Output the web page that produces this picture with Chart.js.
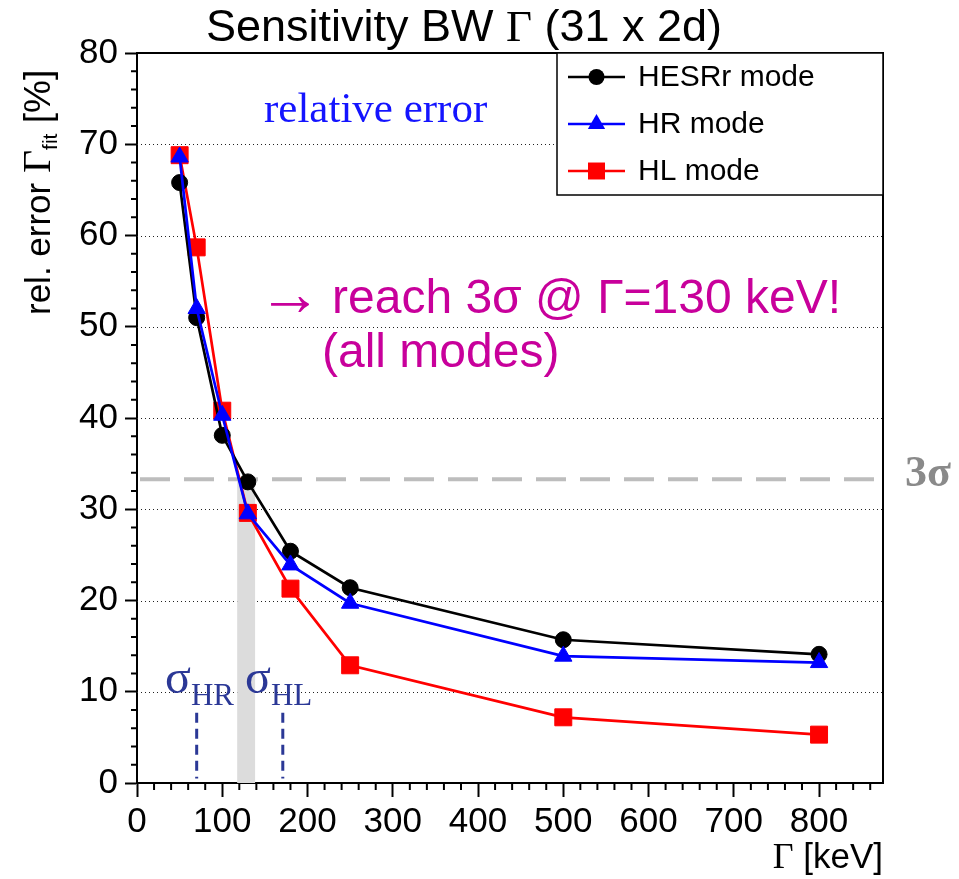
<!DOCTYPE html>
<html><head><meta charset="utf-8">
<script src="https://cdn.jsdelivr.net/npm/chart.js@4.4.1/dist/chart.umd.min.js"></script>
<style>html,body{margin:0;padding:0;background:#fff;}canvas{display:block;}</style>
</head><body>
<canvas id="c" width="959" height="879"></canvas>
<script>
// ---- data ----
const widths = [50, 70, 100, 130, 180, 250, 500, 800];          // Gamma [keV]
const hesrrErr = [65.8, 51.0, 38.1, 33.0, 25.4, 21.4, 15.7, 14.1]; // HESRr mode
const hrErr    = [68.6, 52.0, 40.3, 29.5, 23.9, 19.7, 13.9, 13.2]; // HR mode
const hlErr    = [68.8, 58.7, 40.8, 29.6, 21.3, 12.9, 7.2, 5.3];   // HL mode
const xTicks = [0, 100, 200, 300, 400, 500, 600, 700, 800];
const yTicks = [0, 10, 20, 30, 40, 50, 60, 70, 80];
const yGrid  = [10, 20, 30, 40, 50, 60, 70];
const threeSigma = 33.3;
const bandX = [117.5, 138.5];
const sigmaHRx = 70, sigmaHLx = 171, sigmaTop = 7.7;

const SANS = '"Liberation Sans", Arial, sans-serif';
const SERIF = '"Liberation Serif", "Times New Roman", serif';

function mk(label, data, color, style, radius, order) {
  return {
    label, data: widths.map((x, i) => ({x, y: data[i]})),
    borderColor: color, backgroundColor: color, pointBackgroundColor: color, pointBorderColor: color,
    borderWidth: 2.7, pointStyle: style, pointRadius: radius, pointBorderWidth: 1,
    tension: 0, fill: false, showLine: true, order
  };
}

function segs(ctx, parts, x, y, align) {
  let w = 0;
  parts.forEach(p => { ctx.font = p.f; p.w = ctx.measureText(p.t).width; w += p.w; });
  let cx = align === 'right' ? x - w : (align === 'center' ? x - w / 2 : x);
  ctx.textAlign = 'left';
  parts.forEach(p => { ctx.font = p.f; ctx.fillText(p.t, cx, y + (p.dy || 0)); cx += p.w; });
}

function marker(ctx, style, x, y, r, color) {
  ctx.fillStyle = color; ctx.beginPath();
  if (style === 'circle') ctx.arc(x, y, r, 0, Math.PI * 2);
  else if (style === 'triangle') {
    ctx.moveTo(x, y - r);
    ctx.lineTo(x + Math.sin(2 * Math.PI / 3) * r, y - Math.cos(2 * Math.PI / 3) * r);
    ctx.lineTo(x + Math.sin(4 * Math.PI / 3) * r, y - Math.cos(4 * Math.PI / 3) * r);
    ctx.closePath();
  } else { const s = Math.SQRT1_2 * r; ctx.rect(x - s, y - s, 2 * s, 2 * s); }
  ctx.fill();
}

const deco = {
  id: 'deco',
  beforeDraw(chart) {
    const ctx = chart.ctx; ctx.save(); ctx.fillStyle = '#fff'; ctx.fillRect(0, 0, chart.width, chart.height); ctx.restore();
  },
  beforeDatasetsDraw(chart) {
    const {ctx, chartArea: a, scales: {x, y}} = chart;
    ctx.save();
    ctx.strokeStyle = '#222'; ctx.lineWidth = 1; ctx.setLineDash([1, 3]);
    yGrid.forEach(v => { const py = Math.round(y.getPixelForValue(v)) + 0.5; ctx.beginPath(); ctx.moveTo(a.left, py); ctx.lineTo(a.right, py); ctx.stroke(); });
    ctx.setLineDash([]);
    ctx.fillStyle = '#dcdcdc';
    const bx0 = x.getPixelForValue(bandX[0]), bx1 = x.getPixelForValue(bandX[1]);
    const by0 = y.getPixelForValue(threeSigma), by1 = y.getPixelForValue(0);
    ctx.fillRect(bx0, by0, bx1 - bx0, by1 - by0);
    ctx.strokeStyle = '#bdbdbd'; ctx.lineWidth = 4; ctx.setLineDash([30, 14]);
    const ps = y.getPixelForValue(threeSigma);
    ctx.beginPath(); ctx.moveTo(a.left + 3, ps); ctx.lineTo(a.right - 4, ps); ctx.stroke();
    ctx.strokeStyle = '#2b3896'; ctx.lineWidth = 3; ctx.setLineDash([10, 6]);
    [sigmaHRx, sigmaHLx].forEach(v => {
      const px = x.getPixelForValue(v);
      ctx.beginPath(); ctx.moveTo(px, y.getPixelForValue(sigmaTop)); ctx.lineTo(px, y.getPixelForValue(0.5)); ctx.stroke();
    });
    ctx.restore();
  },
  afterDatasetsDraw(chart) {
    const {ctx, chartArea: a, scales: {x, y}} = chart;
    ctx.save();
    ctx.strokeStyle = '#000'; ctx.lineWidth = 2;
    ctx.beginPath(); ctx.moveTo(a.left, a.top); ctx.lineTo(a.right, a.top); ctx.lineTo(a.right, a.bottom); ctx.stroke();
    for (let v = 0; v <= 875; v += 20) {
      if (v % 100 === 0) continue;
      const px = x.getPixelForValue(v);
      ctx.beginPath(); ctx.moveTo(px, a.bottom); ctx.lineTo(px, a.bottom + 7); ctx.stroke();
    }
    for (let v = 0; v <= 80; v += 2) {
      if (v % 10 === 0) continue;
      const py = y.getPixelForValue(v);
      ctx.beginPath(); ctx.moveTo(a.left, py); ctx.lineTo(a.left - 6, py); ctx.stroke();
    }
    // legend
    ctx.fillStyle = '#fff';
    ctx.fillRect(557, 53, 883 - 557, 195 - 53);
    ctx.strokeStyle = '#000'; ctx.lineWidth = 1.5;
    ctx.strokeRect(557, 53, 883 - 557, 195 - 53);
    const rows = [[77, 'HESRr mode', '#000', 'circle', 8], [124, 'HR mode', '#0000ff', 'triangle', 10], [171, 'HL mode', '#ff0000', 'rect', 12]];
    rows.forEach(([ry, t, c, st, r]) => {
      ctx.strokeStyle = c; ctx.lineWidth = 2.7; ctx.beginPath(); ctx.moveTo(568, ry); ctx.lineTo(625, ry); ctx.stroke();
      marker(ctx, st, 596.5, ry, r, c);
      ctx.fillStyle = '#000'; ctx.font = '30px ' + SANS; ctx.textBaseline = 'middle'; ctx.textAlign = 'left';
      ctx.fillText(t, 638, ry + 1);
    });
    ctx.textBaseline = 'alphabetic';
    ctx.fillStyle = '#000';
    segs(ctx, [{t: 'Sensitivity BW ', f: '45px ' + SANS}, {t: 'Γ', f: '45px ' + SERIF}, {t: ' (31 x 2d)', f: '45px ' + SANS}], 464, 41, 'center');
    segs(ctx, [{t: 'Γ', f: '36px ' + SERIF}, {t: ' [keV]', f: '35px ' + SANS}], 883, 868, 'right');
    ctx.save(); ctx.translate(50, 315); ctx.rotate(-Math.PI / 2);
    segs(ctx, [{t: 'rel. error ', f: '35px ' + SANS}, {t: 'Γ', f: '40px ' + SERIF}, {t: 'fit', f: '21px ' + SANS, dy: 7}, {t: ' [%]', f: '37px ' + SANS}], 0, 0, 'left');
    ctx.restore();
    ctx.fillStyle = '#1414ff';
    segs(ctx, [{t: 'relative error', f: '43px ' + SERIF}], 264, 122, 'left');
    ctx.fillStyle = '#c8009b';
    segs(ctx, [{t: '→', f: '64px ' + SANS, dy: 2}], 258, 313, 'left');
    segs(ctx, [{t: 'reach 3σ @ Γ=130 keV!', f: '48px ' + SANS}], 332, 313, 'left');
    segs(ctx, [{t: '(all modes)', f: '48px ' + SANS}], 322, 367, 'left');
    ctx.fillStyle = '#8a8a8a';
    segs(ctx, [{t: '3σ', f: 'bold 44px ' + SERIF}], 905, 486, 'left');
    ctx.fillStyle = '#2b3896';
    segs(ctx, [{t: 'σ', f: '48px ' + SERIF}, {t: 'HR', f: '31px ' + SERIF, dy: 12}], 165, 693, 'left');
    segs(ctx, [{t: 'σ', f: '48px ' + SERIF}, {t: 'HL', f: '31px ' + SERIF, dy: 12}], 245, 693, 'left');
    ctx.restore();
  }
};

new Chart(document.getElementById('c'), {
  type: 'line',
  data: {
    datasets: [
      mk('HESRr mode', hesrrErr, '#000000', 'circle', 8, 1),
      mk('HR mode', hrErr, '#0000ff', 'triangle', 10, 0),
      mk('HL mode', hlErr, '#ff0000', 'rect', 12, 2)
    ]
  },
  options: {
    responsive: false, animation: false,
    layout: {padding: {top: 53, right: 76, left: 0, bottom: 0}},
    plugins: {legend: {display: false}, title: {display: false}, tooltip: {enabled: false}},
    scales: {
      x: {
        type: 'linear', min: 0, max: 875,
        afterBuildTicks: s => { s.ticks = xTicks.map(v => ({value: v})); },
        afterFit: s => { s.height = 96; },
        grid: {drawOnChartArea: false, drawTicks: true, tickLength: 14, tickWidth: 2, tickColor: '#000'},
        border: {display: true, color: '#000', width: 2},
        ticks: {font: {family: SANS, size: 35}, color: '#000', padding: 4, maxRotation: 0, autoSkip: false}
      },
      y: {
        type: 'linear', min: 0, max: 80,
        afterBuildTicks: s => { s.ticks = yTicks.map(v => ({value: v})); },
        afterFit: s => { s.width = 137; },
        grid: {drawOnChartArea: false, drawTicks: true, tickLength: 12, tickWidth: 2, tickColor: '#000'},
        border: {display: true, color: '#000', width: 2},
        ticks: {font: {family: SANS, size: 35}, color: '#000', padding: 7, autoSkip: false}
      }
    }
  },
  plugins: [deco]
});
</script>
</body></html>
